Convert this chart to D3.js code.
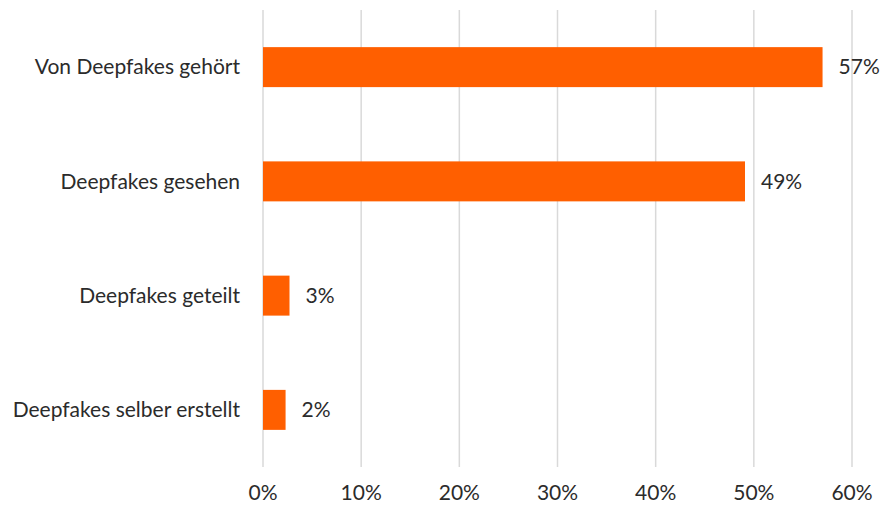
<!DOCTYPE html>
<html lang="de">
<head>
    <meta charset="UTF-8">
    <title>Deepfakes</title>
    <script src="https://d3js.org/d3.v7.min.js"></script>
    <style>
        body { margin: 0; background: #fff; }
        svg text { font-family: 'Lato', 'Open Sans', sans-serif; fill: #2b2b2b; font-size: 21px; }
    </style>
</head>
<body>
    <svg id="chart" width="880" height="506"></svg>
    <script>
        // data
        const categories = ["Von Deepfakes gehört", "Deepfakes gesehen", "Deepfakes geteilt", "Deepfakes selber erstellt"];
        const values = [57.0, 49.1, 2.7, 2.3];
        const valueLabels = ["57%", "49%", "3%", "2%"];
        const tickValues = [0, 10, 20, 30, 40, 50, 60];

        const svg = d3.select("#chart");
        const margin = { top: 10, right: 28, bottom: 39, left: 263 };
        const width = 880, height = 506;

        const x = d3.scaleLinear()
            .domain([0, 60])
            .range([margin.left, width - margin.right]);

        const y = d3.scaleBand()
            .domain(categories)
            .range([margin.top, height - margin.bottom])
            .paddingInner(0.65)
            .paddingOuter(0.325);

        // gridlines
        svg.append("g")
            .selectAll("line")
            .data(tickValues)
            .join("line")
            .attr("x1", d => x(d))
            .attr("x2", d => x(d))
            .attr("y1", margin.top)
            .attr("y2", height - margin.bottom)
            .attr("stroke", "#d9d9d9")
            .attr("stroke-width", 1.5);

        // x tick labels
        svg.append("g")
            .selectAll("text")
            .data(tickValues)
            .join("text")
            .attr("x", d => x(d))
            .attr("y", 500)
            .attr("text-anchor", "middle")
            .text(d => d + "%");

        // bars
        svg.append("g")
            .selectAll("rect")
            .data(values)
            .join("rect")
            .attr("x", x(0))
            .attr("y", (d, i) => y(categories[i]))
            .attr("width", d => x(d) - x(0))
            .attr("height", y.bandwidth())
            .attr("fill", "#ff5f00");

        // value labels
        svg.append("g")
            .selectAll("text")
            .data(values)
            .join("text")
            .attr("x", d => x(d) + 16)
            .attr("y", (d, i) => y(categories[i]) + y.bandwidth() / 2)
            .attr("dy", "0.35em")
            .text((d, i) => valueLabels[i]);

        // category labels
        svg.append("g")
            .selectAll("text")
            .data(categories)
            .join("text")
            .attr("x", margin.left - 23)
            .attr("y", d => y(d) + y.bandwidth() / 2)
            .attr("dy", "0.35em")
            .attr("text-anchor", "end")
            .text(d => d);
    </script>
</body>
</html>
